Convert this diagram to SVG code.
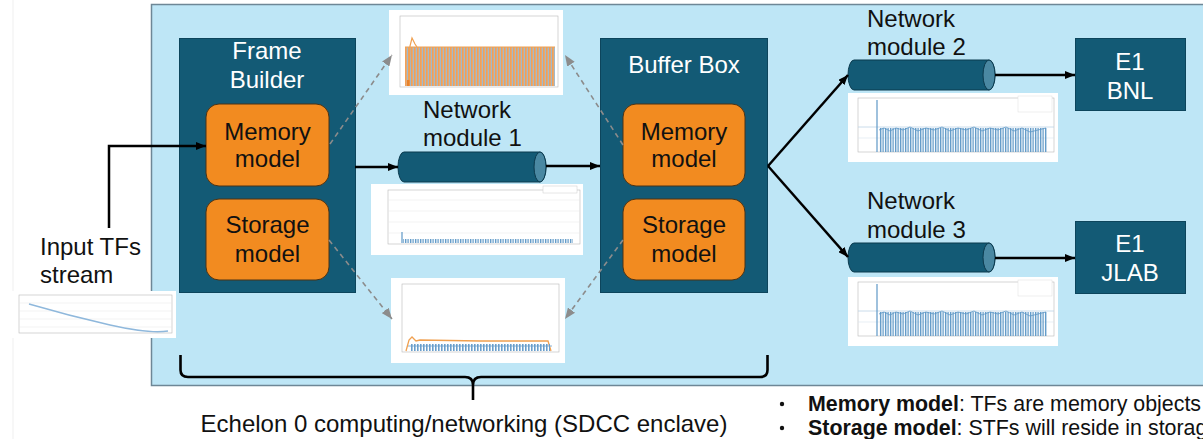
<svg xmlns="http://www.w3.org/2000/svg" width="1203" height="439" viewBox="0 0 1203 439">
<defs>
<style>
.lbl{font-family:"Liberation Sans",Arial,sans-serif;font-size:24px;fill:#111}
.wl{font-family:"Liberation Sans",Arial,sans-serif;font-size:24px;fill:#fff;text-anchor:middle}
.ol{font-family:"Liberation Sans",Arial,sans-serif;font-size:24px;fill:#111;text-anchor:middle}
.box{fill:#135a75;stroke:#0d455c;stroke-width:1}
.org{fill:#f28b20;stroke:#4a3316;stroke-width:1}
.cyl{fill:#135a75;stroke:#0b3a4e;stroke-width:1}
.cap{fill:#4a88a2;stroke:#0b3a4e;stroke-width:1}
.conn{fill:none;stroke:#000;stroke-width:2.5}
.dash{fill:none;stroke:#8c8c8c;stroke-width:1.6;stroke-dasharray:5 4}
.plot{fill:#fff}
.ax{fill:none;stroke:#b8b8b8;stroke-width:0.6}
.grid{stroke:#e6e6e6;stroke-width:0.5}
.bul{font-family:"Liberation Sans",Arial,sans-serif;font-size:21.4px;fill:#111}
</style>
<marker id="ah" viewBox="0 0 10 8" refX="10" refY="4" markerWidth="10" markerHeight="8" markerUnits="userSpaceOnUse" orient="auto"><path d="M0,0 L10,4 L0,8 Z" fill="#000"/></marker>
<marker id="ahg" viewBox="0 0 10 8" refX="10" refY="4" markerWidth="11" markerHeight="9" markerUnits="userSpaceOnUse" orient="auto"><path d="M0,0 L10,4 L0,8 Z" fill="#8c8c8c"/></marker>
<pattern id="pOB" width="3" height="10" patternUnits="userSpaceOnUse"><rect x="0" y="0" width="1.9" height="10" fill="#eea05a"/><rect x="1.9" y="0" width="0.9" height="10" fill="#8aa9bf"/></pattern>
<pattern id="pB" width="2.5" height="10" patternUnits="userSpaceOnUse"><rect x="0" y="0" width="1.3" height="10" fill="#5e98c6"/></pattern>
<pattern id="pB2" width="3" height="10" patternUnits="userSpaceOnUse"><rect x="0" y="0" width="1.6" height="10" fill="#6a9ecb"/></pattern>
</defs>

<rect width="1203" height="439" fill="#fff"/>
<line x1="13" y1="0" x2="13" y2="439" stroke="#efefef" stroke-width="1"/>

<!-- main panel -->
<rect id="panel" x="151.5" y="4.5" width="1060" height="381" fill="#bee6f6" stroke="#6e8796" stroke-width="1.5"/>

<!-- plots -->
<g id="plot-memory">
<rect class="plot" x="389" y="10" width="174" height="85"/>
<rect class="ax" x="400" y="16" width="158" height="71"/>
<rect x="405" y="47" width="150" height="39" fill="url(#pOB)"/>
<line x1="405" y1="47" x2="555" y2="47" stroke="#f0a050" stroke-width="1.2"/>
<path d="M409,86 L410,46 L412,38 L415,44 L417,47" fill="none" stroke="#f0a050" stroke-width="1.2"/>
<rect x="407" y="80" width="2.5" height="6" fill="#e8822a"/>
</g>
<g id="plot-net1">
<rect class="plot" x="371" y="184" width="212" height="71"/>
<rect class="ax" x="388" y="190" width="192" height="54"/>
<line class="grid" x1="388" y1="200" x2="580" y2="200"/>
<line class="grid" x1="388" y1="211" x2="580" y2="211"/>
<line class="grid" x1="388" y1="222" x2="580" y2="222"/>
<line class="grid" x1="388" y1="233" x2="580" y2="233"/>
<line x1="402" y1="232" x2="402" y2="243" stroke="#5e98c6" stroke-width="1.2"/>
<rect x="403" y="239" width="170" height="4" fill="url(#pB)"/>
<rect x="543" y="186" width="34" height="7" fill="#fff" stroke="#ccc" stroke-width="0.5"/>
</g>
<g id="plot-storage">
<rect class="plot" x="391" y="278" width="174" height="85"/>
<rect class="ax" x="402" y="284" width="157" height="68"/>
<path d="M406,351 L409,340 L412,337 L416,341 L420,340 L480,341 L548,341 L551,351" fill="none" stroke="#f0a050" stroke-width="1.3"/>
<rect x="410" y="344" width="140" height="7" fill="url(#pB2)"/>
<line x1="408" y1="346" x2="552" y2="346" stroke="#6a9ecb" stroke-width="0.8"/>
</g>
<g id="plot-input">
<rect class="plot" x="12" y="291" width="164" height="47"/>
<rect class="ax" x="19" y="295" width="153" height="38"/>
<line class="grid" x1="19" y1="303" x2="172" y2="303"/>
<line class="grid" x1="19" y1="311" x2="172" y2="311"/>
<line class="grid" x1="19" y1="319" x2="172" y2="319"/>
<line class="grid" x1="19" y1="327" x2="172" y2="327"/>
<path d="M29,304 Q70,316 110,325 T168,331" fill="none" stroke="#8fb8dc" stroke-width="1.4"/>
</g>
<g id="plot-net2">
<rect class="plot" x="848" y="93" width="210" height="69"/>
<rect class="ax" x="858" y="98" width="196" height="54"/>
<line x1="858" y1="127" x2="1054" y2="127" stroke="#bcd3e6" stroke-width="0.8"/>
<line x1="858" y1="138" x2="1054" y2="138" stroke="#d8e4ee" stroke-width="0.6"/>
<line x1="877" y1="100" x2="877" y2="152" stroke="#5e98c6" stroke-width="1.2"/>
<rect x="879" y="128" width="168" height="24" fill="url(#pB)"/>
<path d="M879,130 L884,128 L890,131 L896,128 L903,130 L910,127 L918,131 L926,128 L934,130 L942,127 L950,131 L958,128 L966,130 L974,127 L982,131 L990,128 L998,130 L1006,127 L1014,131 L1022,128 L1030,132 L1038,130 L1046,128" fill="none" stroke="#5e98c6" stroke-width="0.8"/>
<rect x="1018" y="96" width="34" height="16" fill="#fff" stroke="#ddd" stroke-width="0.5"/>
</g>
<g id="plot-net3">
<rect class="plot" x="848" y="277" width="210" height="69"/>
<rect class="ax" x="858" y="282" width="196" height="54"/>
<line x1="858" y1="311" x2="1054" y2="311" stroke="#bcd3e6" stroke-width="0.8"/>
<line x1="858" y1="322" x2="1054" y2="322" stroke="#d8e4ee" stroke-width="0.6"/>
<line x1="877" y1="284" x2="877" y2="336" stroke="#5e98c6" stroke-width="1.2"/>
<rect x="879" y="312" width="168" height="24" fill="url(#pB)"/>
<path d="M879,314 L884,312 L890,315 L896,312 L903,314 L910,311 L918,315 L926,312 L934,314 L942,311 L950,315 L958,312 L966,314 L974,311 L982,315 L990,312 L998,314 L1006,311 L1014,315 L1022,312 L1030,316 L1038,314 L1046,312" fill="none" stroke="#5e98c6" stroke-width="0.8"/>
<rect x="1018" y="280" width="34" height="16" fill="#fff" stroke="#ddd" stroke-width="0.5"/>
</g>

<!-- nodes -->
<g id="frame-builder">
<rect class="box" x="179.5" y="38.5" width="176" height="254"/>
<text class="wl" x="267" y="59">Frame</text>
<text class="wl" x="267" y="88">Builder</text>
</g>
<g id="fb-memory">
<rect class="org" x="206" y="104" width="123" height="82" rx="13"/>
<text class="ol" x="267.5" y="140">Memory</text>
<text class="ol" x="267.5" y="167">model</text>
</g>
<g id="fb-storage">
<rect class="org" x="206" y="199" width="123" height="81" rx="13"/>
<text class="ol" x="267.5" y="233">Storage</text>
<text class="ol" x="267.5" y="262">model</text>
</g>
<g id="buffer-box">
<rect class="box" x="600.5" y="38.5" width="167" height="254"/>
<text class="wl" x="684" y="73">Buffer Box</text>
</g>
<g id="bb-memory">
<rect class="org" x="623" y="104" width="122" height="82" rx="13"/>
<text class="ol" x="684" y="140">Memory</text>
<text class="ol" x="684" y="167">model</text>
</g>
<g id="bb-storage">
<rect class="org" x="623" y="199" width="122" height="81" rx="13"/>
<text class="ol" x="684" y="233">Storage</text>
<text class="ol" x="684" y="262">model</text>
</g>
<g id="net1">
<path class="cyl" d="M404,152 L540,152 A6,15 0 0 1 540,182 L404,182 A6,15 0 0 1 404,152 Z"/>
<ellipse class="cap" cx="540" cy="167" rx="6" ry="15"/>
<text class="lbl" x="423" y="118">Network</text>
<text class="lbl" x="423" y="146">module 1</text>
</g>
<g id="net2">
<path class="cyl" d="M854,60 L989,60 A6,15 0 0 1 989,90 L854,90 A6,15 0 0 1 854,60 Z"/>
<ellipse class="cap" cx="989" cy="75" rx="6" ry="15"/>
<text class="lbl" x="867" y="27">Network</text>
<text class="lbl" x="867" y="55">module 2</text>
</g>
<g id="net3">
<path class="cyl" d="M854,243 L989,243 A6,14.5 0 0 1 989,272 L854,272 A6,14.5 0 0 1 854,243 Z"/>
<ellipse class="cap" cx="989" cy="257.5" rx="6" ry="14.5"/>
<text class="lbl" x="867" y="209">Network</text>
<text class="lbl" x="867" y="238">module 3</text>
</g>
<g id="e1-bnl">
<rect class="box" x="1075.5" y="38.5" width="110" height="72"/>
<text class="wl" x="1130" y="70">E1</text>
<text class="wl" x="1130" y="99">BNL</text>
</g>
<g id="e1-jlab">
<rect class="box" x="1075.5" y="221.5" width="110" height="72"/>
<text class="wl" x="1130" y="252">E1</text>
<text class="wl" x="1130" y="281">JLAB</text>
</g>
<g id="input">
<text class="lbl" x="40" y="255">Input TFs</text>
<text class="lbl" x="40" y="283">stream</text>
</g>

<!-- connectors -->
<g id="connectors">
<path class="conn" d="M109,228 V146 H206" marker-end="url(#ah)"/>
<path class="conn" d="M355,167 H398" marker-end="url(#ah)"/>
<path class="conn" d="M546,166 H600" marker-end="url(#ah)"/>
<path class="conn" d="M768,166 L848,75" marker-end="url(#ah)"/>
<path class="conn" d="M768,166 L848,257" marker-end="url(#ah)"/>
<path class="conn" d="M995,75 H1075" marker-end="url(#ah)"/>
<path class="conn" d="M995,258 H1075" marker-end="url(#ah)"/>
<path class="dash" d="M330,144 L392,55" marker-end="url(#ahg)"/>
<path class="dash" d="M623,145 L565,55" marker-end="url(#ahg)"/>
<path class="dash" d="M329,240 L392,319" marker-end="url(#ahg)"/>
<path class="dash" d="M623,240 L565,319" marker-end="url(#ahg)"/>
</g>

<!-- brace -->
<path id="brace" d="M180.5,355 V370 Q180.5,377 188,377 H465 Q473,377 473,385 V400 V385 Q473,377 481,377 H760 Q767.5,377 767.5,370 V355" fill="none" stroke="#000" stroke-width="2.6"/>
<text class="lbl" x="464" y="432" text-anchor="middle">Echelon 0 computing/networking (SDCC enclave)</text>

<!-- bullets -->
<circle cx="782" cy="404" r="2.2" fill="#111"/>
<circle cx="782" cy="428" r="2.2" fill="#111"/>
<text class="bul" x="808" y="411"><tspan font-weight="bold">Memory model</tspan>: TFs are memory objects</text>
<text class="bul" x="808" y="435"><tspan font-weight="bold">Storage model</tspan>: STFs will reside in storage</text>
</svg>
